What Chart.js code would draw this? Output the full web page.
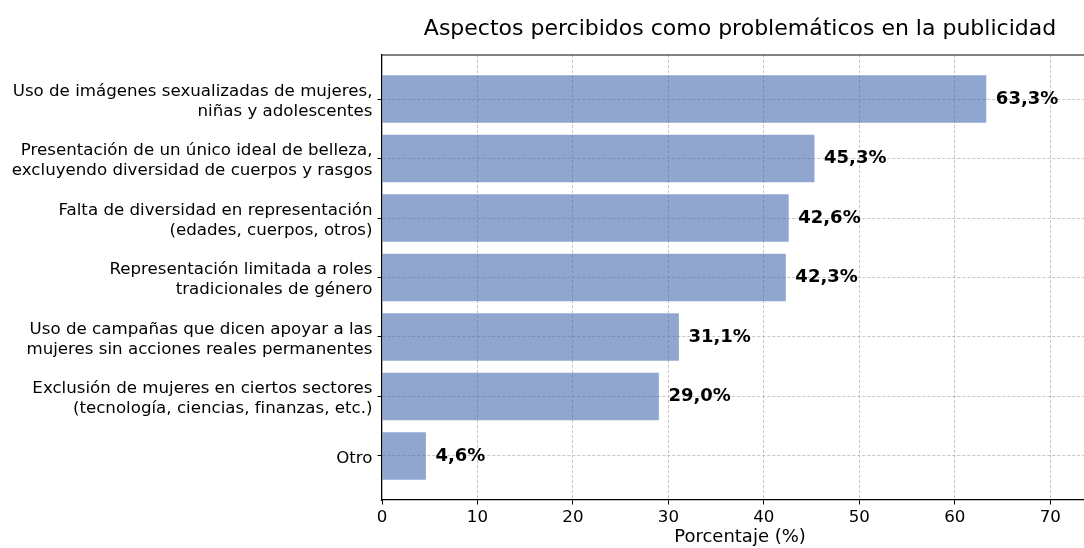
<!DOCTYPE html>
<html lang="es">
<head>
<meta charset="utf-8">
<script src="https://cdn.jsdelivr.net/npm/chart.js@4/dist/chart.umd.min.js"></script>
<style>
  html, body { margin: 0; padding: 0; background: #ffffff; overflow: hidden; }
  #wrap { position: relative; width: 1100px; height: 548px; }
</style>
</head>
<body>
<div id="wrap"><canvas id="chart"></canvas></div>
<script>
// Categorías (una línea por elemento del arreglo interno)
const categories = [
  ["Uso de imágenes sexualizadas de mujeres,", "niñas y adolescentes"],
  ["Presentación de un único ideal de belleza,", "excluyendo diversidad de cuerpos y rasgos"],
  ["Falta de diversidad en representación", "(edades, cuerpos, otros)"],
  ["Representación limitada a roles", "tradicionales de género"],
  ["Uso de campañas que dicen apoyar a las", "mujeres sin acciones reales permanentes"],
  ["Exclusión de mujeres en ciertos sectores", "(tecnología, ciencias, finanzas, etc.)"],
  ["Otro"]
];
// Porcentaje de personas que marcaron cada aspecto
const percentages = [63.3, 45.3, 42.6, 42.3, 31.1, 29.0, 4.6];
// Marcas del eje X
const xTickValues = [0, 10, 20, 30, 40, 50, 60, 70];

const chartTitle = "Aspectos percibidos como problemáticos en la publicidad";
const xAxisTitle = "Porcentaje (%)";

const FONT = "'DejaVu Sans', 'Noto Sans', sans-serif";
const fmt = v => v.toFixed(1).replace('.', ',') + '%';

// Título centrado sobre el área de trazado y borde superior del marco
const frameAndTitle = {
  id: 'frameAndTitle',
  afterDraw(chart) {
    const { ctx, chartArea } = chart;
    ctx.save();
    ctx.strokeStyle = 'rgba(0,0,0,0.65)';
    ctx.lineWidth = 1.6;
    ctx.beginPath();
    ctx.moveTo(chartArea.left, chartArea.top);
    ctx.lineTo(chartArea.right, chartArea.top);
    ctx.stroke();
    ctx.fillStyle = '#000';
    ctx.font = `22px ${FONT}`;
    ctx.textAlign = 'center';
    ctx.textBaseline = 'alphabetic';
    ctx.fillText(chartTitle, (chartArea.left + chartArea.right) / 2, chartArea.top - 20);
    ctx.restore();
  }
};

// Etiquetas de valor a la derecha de cada barra
const valueLabels = {
  id: 'valueLabels',
  afterDatasetsDraw(chart) {
    const { ctx } = chart;
    const xs = chart.scales.x;
    const meta = chart.getDatasetMeta(0);
    ctx.save();
    ctx.fillStyle = '#000';
    ctx.font = `bold 18px ${FONT}`;
    ctx.textAlign = 'left';
    ctx.textBaseline = 'middle';
    meta.data.forEach((bar, i) => {
      const v = percentages[i];
      ctx.fillText(fmt(v), xs.getPixelForValue(v + 1), bar.y);
    });
    ctx.restore();
  }
};

const GRID_COLOR = 'rgba(176,176,176,0.8)';
const gridCommon = {
  lineWidth: 0.9,
  tickLength: 4.5,
  tickColor: '#000',
  tickWidth: 1,
  tickBorderDash: [],
  offset: false
};
const borderCommon = { display: true, color: '#000', width: 1.3, dash: [3, 2] };

new Chart(document.getElementById('chart'), {
  type: 'bar',
  data: {
    datasets: [{
      data: percentages.map((v, i) => ({ x: v, y: i })),
      backgroundColor: 'rgba(72,106,175,0.6)',
      borderWidth: 0,
      barPercentage: 0.8,
      categoryPercentage: 1.0
    }]
  },
  options: {
    indexAxis: 'y',
    responsive: true,
    maintainAspectRatio: false,
    animation: false,
    layout: { padding: { left: 0, right: 2, top: 55, bottom: 0 } },
    plugins: { legend: { display: false }, tooltip: { enabled: false }, title: { display: false } },
    scales: {
      x: {
        type: 'linear',
        min: 0,
        max: 75,
        offset: false,
        afterBuildTicks(scale) { scale.ticks = xTickValues.map(v => ({ value: v })); },
        afterFit(scale) { scale.height = 48; },
        ticks: {
          color: '#000',
          font: { family: FONT, size: 16.67, lineHeight: 1.2 },
          padding: 3,
          maxRotation: 0,
          callback: v => String(v)
        },
        grid: Object.assign({}, gridCommon, {
          // the line at x = 0 sits on the axis itself
          color: c => (c.tick && c.tick.value === 0 ? 'rgba(0,0,0,0)' : GRID_COLOR)
        }),
        border: borderCommon,
        title: {
          display: true,
          text: xAxisTitle,
          color: '#000',
          font: { family: FONT, size: 18, lineHeight: 1.2 },
          padding: { top: 0, bottom: 0 }
        }
      },
      y: {
        type: 'linear',
        min: -0.74,
        max: 6.74,
        reverse: true,
        offset: false,
        afterBuildTicks(scale) { scale.ticks = categories.map((c, i) => ({ value: i })); },
        afterFit(scale) { scale.width = 382; },
        ticks: {
          color: '#000',
          font: { family: FONT, size: 16.67, lineHeight: 1.2 },
          padding: 5,
          labelOffset: 2.5,
          callback: v => categories[v]
        },
        grid: Object.assign({}, gridCommon, { color: GRID_COLOR }),
        border: borderCommon
      }
    }
  },
  plugins: [frameAndTitle, valueLabels]
});
</script>
</body>
</html>
